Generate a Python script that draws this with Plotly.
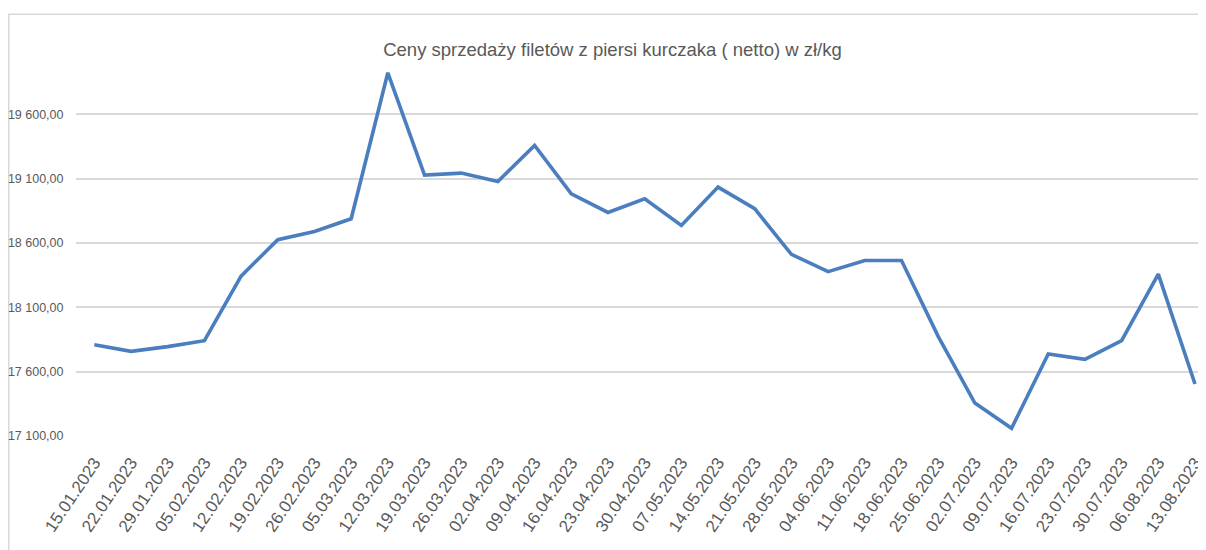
import plotly.graph_objects as go

dates = ["15.01.2023", "22.01.2023", "29.01.2023", "05.02.2023", "12.02.2023", "19.02.2023",
         "26.02.2023", "05.03.2023", "12.03.2023", "19.03.2023", "26.03.2023", "02.04.2023",
         "09.04.2023", "16.04.2023", "23.04.2023", "30.04.2023", "07.05.2023", "14.05.2023",
         "21.05.2023", "28.05.2023", "04.06.2023", "11.06.2023", "18.06.2023", "25.06.2023",
         "02.07.2023", "09.07.2023", "16.07.2023", "23.07.2023", "30.07.2023", "06.08.2023",
         "13.08.2023"]
prices = [17810, 17758, 17795, 17841, 18343, 18626, 18690, 18789, 19924, 19128, 19144, 19079,
          19359, 18983, 18838, 18944, 18737, 19035, 18867, 18512, 18378, 18465, 18465, 17875,
          17356, 17160, 17738, 17696, 17841, 18359, 17504]
ytick_vals = [17100, 17600, 18100, 18600, 19100, 19600]
ytick_text = ["17 100,00", "17 600,00", "18 100,00", "18 600,00", "19 100,00", "19 600,00"]
title_text = "Ceny sprzedaży filetów z piersi kurczaka ( netto) w zł/kg"

FONT = "Liberation Sans, Arial, sans-serif"
GRAY = "#595959"

fig = go.Figure()
fig.add_trace(go.Scatter(
    x=list(range(len(dates))), y=prices, mode="lines",
    line=dict(color="#4A7EBE", width=3.6), hoverinfo="skip", showlegend=False,
))

fig.update_layout(
    width=1198, height=542,
    margin=dict(l=68, r=0, t=55, b=113.7, autoexpand=False),
    paper_bgcolor="white", plot_bgcolor="white",
    title=dict(text=title_text, x=0.5046, xref="container", xanchor="center",
               y=0.9225, yref="container", yanchor="middle",
               font=dict(family=FONT, size=18.5, color=GRAY)),
    xaxis=dict(
        range=[-0.5, 30.3], tickmode="array", tickvals=list(range(len(dates))), ticktext=dates,
        tickangle=-56, showgrid=False, zeroline=False, showline=False,
        ticks="outside", ticklen=9, tickcolor="rgba(0,0,0,0)", automargin=False,
        tickfont=dict(family=FONT, size=17, color=GRAY),
    ),
    yaxis=dict(
        range=[17100, 20000], tickmode="array", tickvals=ytick_vals, ticktext=ytick_text,
        showgrid=True, gridcolor="#D9D9D9", gridwidth=1.5, zeroline=False, showline=False,
        ticks="outside", ticklen=9, tickcolor="rgba(0,0,0,0)", automargin=False,
        tickfont=dict(family=FONT, size=12.5, color=GRAY),
    ),
    shapes=[dict(type="rect", xref="paper", yref="paper",
                 x0=-0.0595, x1=0.9973, y0=-0.32, y1=1.131,
                 line=dict(color="#D9D9D9", width=1.5), fillcolor="rgba(0,0,0,0)", layer="below")],
)

fig.write_html("out.html")
